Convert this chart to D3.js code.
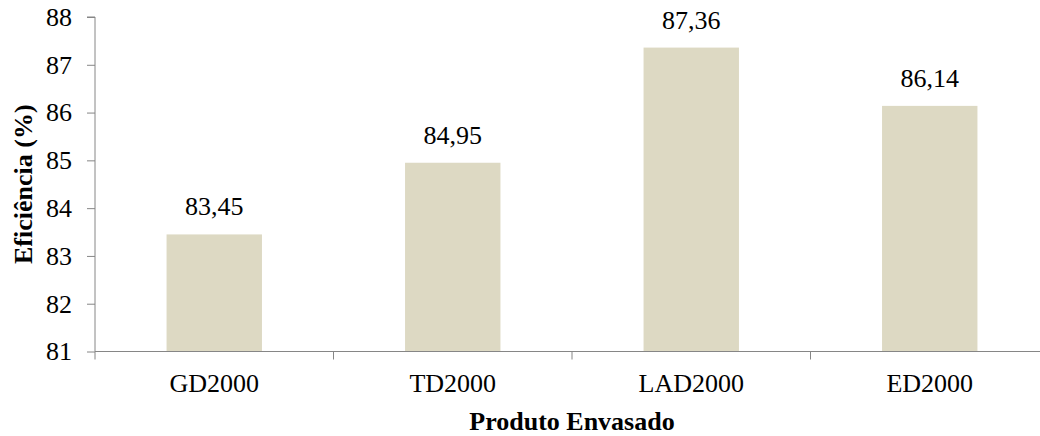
<!DOCTYPE html>
<html>
<head>
<meta charset="utf-8">
<script src="https://cdn.jsdelivr.net/npm/d3@7"></script>
<style>
  html, body { margin: 0; padding: 0; background: #fff; }
  svg { display: block; }
  svg text { font-family: "Liberation Serif", "Times New Roman", serif; }
</style>
</head>
<body>
<svg id="chart" width="1040" height="436"></svg>
<script>
// Data
const categories = ["GD2000", "TD2000", "LAD2000", "ED2000"];
const values = [83.45, 84.95, 87.36, 86.14];
const yTicks = [81, 82, 83, 84, 85, 86, 87, 88];
const yTitle = "Eficiência (%)";
const xTitle = "Produto Envasado";

const svg = d3.select("#chart");
const axisColor = "#868686";
const barColor = "#DDD9C3";
const fontSize = 26;
const serif = "Liberation Serif, Times New Roman, serif";

const plotLeft = 95, plotRight = 1049, plotTop = 17, plotBottom = 351.5;

const x = d3.scaleBand()
  .domain(categories)
  .range([plotLeft, plotRight])
  .paddingInner(0.6)
  .paddingOuter(0.3);

const y = d3.scaleLinear()
  .domain([81, 88])
  .range([plotBottom, plotTop]);

const ptBR = d3.formatLocale({ decimal: ",", thousands: ".", grouping: [3], currency: ["R$", ""] });
const fmt = ptBR.format(".2f");

// Bars
svg.append("g")
  .selectAll("rect")
  .data(values)
  .join("rect")
  .attr("x", (d, i) => x(categories[i]))
  .attr("y", d => y(d))
  .attr("width", x.bandwidth())
  .attr("height", d => y(81) - y(d))
  .attr("fill", barColor);

// Value labels
svg.append("g")
  .selectAll("text")
  .data(values)
  .join("text")
  .attr("x", (d, i) => x(categories[i]) + x.bandwidth() / 2)
  .attr("y", d => y(d) - 19)
  .attr("text-anchor", "middle")
  .attr("font-family", serif)
  .attr("font-size", fontSize)
  .attr("fill", "#000")
  .text(d => fmt(d));

// Y axis
const yAxis = svg.append("g")
  .attr("transform", `translate(${plotLeft},0)`)
  .attr("font-family", serif)
  .call(d3.axisLeft(y).tickValues(yTicks).tickSize(8).tickPadding(15).tickFormat(d3.format("d")));
yAxis.attr("font-family", serif).attr("font-size", fontSize);
yAxis.select(".domain").attr("stroke", axisColor).attr("d", `M-8,${plotTop}H0V${plotBottom}`);
yAxis.selectAll(".tick line").attr("stroke", axisColor);
yAxis.selectAll(".tick text")
  .attr("font-size", fontSize)
  .attr("font-family", serif)
  .attr("fill", "#000");

// X axis: labels centred on bands, ticks at band boundaries
const boundaries = d3.range(categories.length + 1)
  .map(i => plotLeft + (plotRight - plotLeft) * i / categories.length);

const xAxis = svg.append("g")
  .attr("transform", `translate(0,${plotBottom})`)
  .call(d3.axisBottom(x).tickSize(0).tickPadding(22));
xAxis.attr("font-family", serif).attr("font-size", fontSize);
xAxis.select(".domain").attr("stroke", axisColor).attr("d", `M${plotLeft},0H${plotRight}`);
xAxis.selectAll(".tick text")
  .attr("font-size", fontSize)
  .attr("font-family", serif)
  .attr("fill", "#000");
xAxis.append("g")
  .selectAll("line")
  .data(boundaries)
  .join("line")
  .attr("x1", d => d).attr("x2", d => d)
  .attr("y1", 0).attr("y2", 8)
  .attr("stroke", axisColor);

// Axis titles
svg.append("text")
  .attr("transform", `translate(32,${(plotTop + plotBottom) / 2}) rotate(-90)`)
  .attr("text-anchor", "middle")
  .attr("font-family", serif)
  .attr("font-size", fontSize)
  .attr("font-weight", "bold")
  .attr("fill", "#000")
  .text(yTitle);

svg.append("text")
  .attr("x", (plotLeft + plotRight) / 2)
  .attr("y", 430)
  .attr("text-anchor", "middle")
  .attr("font-family", serif)
  .attr("font-size", fontSize)
  .attr("font-weight", "bold")
  .attr("fill", "#000")
  .text(xTitle);
</script>
</body>
</html>
